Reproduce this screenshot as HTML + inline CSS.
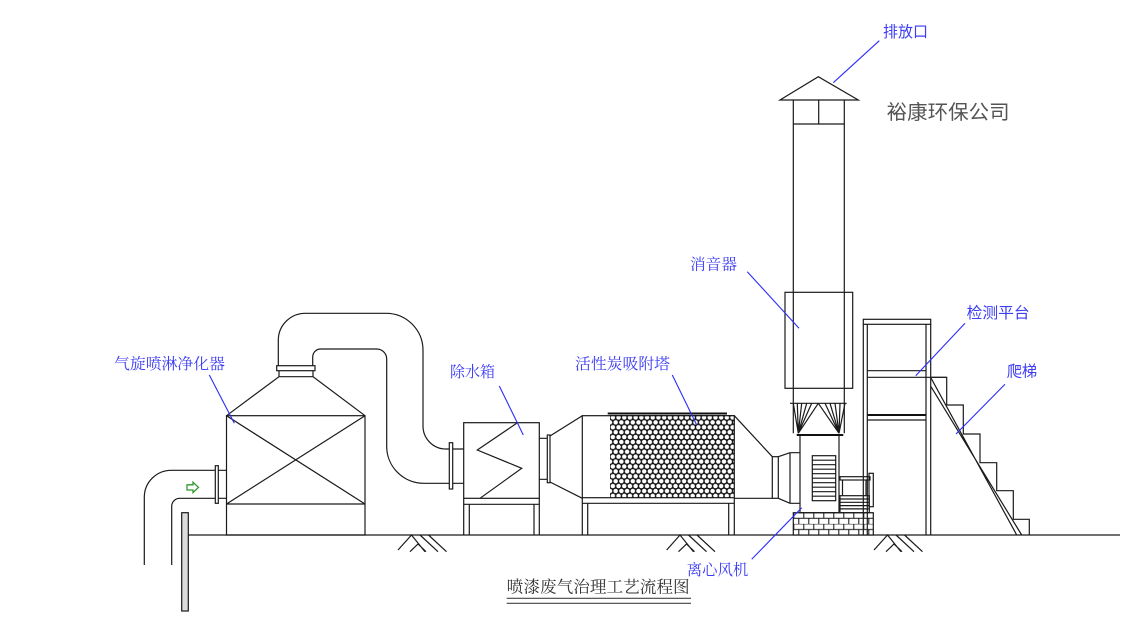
<!DOCTYPE html>
<html><head><meta charset="utf-8"><style>
html,body{margin:0;padding:0;background:#fff;}
svg{display:block;}
.l{fill:none;stroke:#1a1a1a;stroke-width:1.2;}
.b{stroke:#2b2bff;stroke-width:1.1;fill:none;}
.t{font-family:"Liberation Sans","Noto Sans CJK SC",sans-serif;fill:#3c3cf5;font-size:15.5px;}
.s{font-family:"Liberation Serif","Noto Serif CJK SC",serif;fill:#3c3cf5;font-size:15.5px;}
</style></head><body>
<svg width="1123" height="621" viewBox="0 0 1123 621" xmlns="http://www.w3.org/2000/svg">
<defs>
<pattern id="hc" patternUnits="userSpaceOnUse" x="610" y="415" width="5.7" height="9.8">
<rect width="5.7" height="9.8" fill="#111"/>
<circle cx="2.85" cy="2.45" r="2.25" fill="#fff"/>
<circle cx="0" cy="7.35" r="2.25" fill="#fff"/>
<circle cx="5.7" cy="7.35" r="2.25" fill="#fff"/>
</pattern>
<pattern id="br" patternUnits="userSpaceOnUse" x="793.3" y="512.7" width="10" height="11.2">
<rect width="10" height="11.2" fill="#fff"/>
<path d="M0,0H10M0,5.6H10M0.5,0V5.6M5.5,5.6V11.2" stroke="#111" stroke-width="1" fill="none"/>
</pattern>
</defs>
<rect width="1123" height="621" fill="#fff"/>

<!-- ground -->
<line class="l" x1="188.3" y1="535" x2="1120" y2="535"/>
<g class="l">
<path d="M398,550 L411.5,535 L425,551.7 M410,551.7 L418,544 L426,551.7 M420,535 L438,551.7 M428.5,535 L446.5,551.7"/>
<path d="M666.7,550 L680,535 L693.5,551.7 M678.5,551.7 L686.5,544 L694.5,551.7 M688.5,535 L706.5,551.7 M697,535 L715,551.7"/>
<path d="M874,550 L887.5,535 L901,551.7 M886,551.7 L894,544 L902,551.7 M896,535 L914,551.7 M904.5,535 L922.5,551.7"/>
</g>

<!-- inlet pipe -->
<g class="l">
<path d="M144.3,565 L144.3,497 A27,27 0 0 1 171.3,470.3 L215.3,470.3"/>
<path d="M171.7,565 L171.7,506.3 A8,8 0 0 1 179.7,498.3 L215.3,498.3"/>
<rect x="215.3" y="465.7" width="3" height="37.6"/>
<path d="M218.3,470.3H226.5M218.3,498.3H226.5"/>
</g>
<rect x="181.7" y="512.7" width="6.6" height="98.3" fill="#ddd" stroke="#1a1a1a" stroke-width="1.2"/>
<polygon points="187,484.8 193,484.8 193,482.2 198.5,487.4 193,492.6 193,490 187,490" fill="#fff" stroke="#2f9a2f" stroke-width="1.3"/>

<!-- scrubber -->
<g class="l">
<rect x="226.5" y="415.7" width="138.5" height="119.3"/>
<path d="M226.5,504H365 M226.5,415.7L365,504 M365,415.7L226.5,504"/>
<polyline points="226.5,415.7 279,376.7 313,376.7 365,415.7"/>
<rect x="276.7" y="365.7" width="38.3" height="5"/>
<path d="M279,370.7V376.7M313,370.7V376.7"/>
<path d="M278.3,365.7 L278.3,340 A27,27 0 0 1 305.3,313.3 L386,313.3 A37,37 0 0 1 423,350.3 L423,426 A23,23 0 0 0 446,449 L449.3,449"/>
<path d="M312.7,365.7 L312.7,357 A8,8 0 0 1 320.7,349 L376.7,349 A10,10 0 0 1 386.7,359 L386.7,446 A37,37 0 0 0 423.7,483.3 L449.3,483.3"/>
</g>

<!-- water box -->
<g class="l">
<rect x="463.7" y="422.7" width="75.6" height="75.6"/>
<path d="M463.7,498.3V535 M469.3,504.3V535 M534,504.3V535 M539.3,498.3V535 M463.7,504.3H539.3"/>
<polyline points="516.7,423.3 477.3,450 521.7,468.3 480,498.3"/>
<rect x="449.3" y="442.7" width="3.4" height="46.3"/>
<path d="M452.7,449H463.7M452.7,483.3H463.7"/>
<path d="M539.3,438.3H547.3M539.3,479.3H547.3"/>
<rect x="547.3" y="435" width="2.7" height="47.7"/>
<path d="M550,436L582.3,415.7M550,482L582.3,498.3"/>
</g>

<!-- carbon tower -->
<rect x="610" y="415" width="124.3" height="82.7" fill="url(#hc)"/>
<g class="l">
<rect x="582.3" y="415.7" width="152" height="82"/>
<path d="M582.3,497.7V535 M587.7,503.3V535 M728.7,503.3V535 M734.3,497.7V535 M582.3,503.3H734.3"/>
<path d="M734.3,415.7L772.3,456.7 M734.3,498.3H772.3"/>
<rect x="772.3" y="456.7" width="6" height="41.6"/>
<path d="M778.3,456.7L790,452.7 M778.3,498.3L790,503.3 M790,452.7V503.3 M790,452.7H800 M790,503.3H800"/>
</g>
<line x1="607.7" y1="413.5" x2="727" y2="413.5" stroke="#111" stroke-width="2"/>

<!-- chimney -->
<g class="l">
<polygon points="780,100 818.3,76.7 858.3,100"/>
<path d="M793.3,100V433.3 M844.3,100V433.3 M818.7,100V124 M793.3,124H844.3"/>
<rect x="785" y="292.3" width="67.7" height="96"/>
<path d="M790,403.3H846.7"/>
<path d="M793.3,403.3L798.3,433.3 M797.3,403.3L798.3,433.3 M801.7,403.3L798.3,433.3 M806.7,403.3L798.3,433.3 M811.7,403.3L798.3,433.3 M818.3,403.3L798.3,433.3"/>
<path d="M818.3,403.3L839,433.3 M825,403.3L839,433.3 M830,403.3L839,433.3 M835,403.3L839,433.3 M840,403.3L839,433.3 M845,403.3L839,433.3"/>
</g>

<!-- fan -->
<rect x="793.3" y="512.7" width="80" height="22.3" fill="url(#br)" stroke="#1a1a1a" stroke-width="1.2"/>
<g class="l">
<rect x="800" y="435" width="39" height="77.7"/>
<rect x="812.3" y="455.7" width="23.4" height="45"/>
<path d="M812.3,460.2H835.7M812.3,464.7H835.7M812.3,469.2H835.7M812.3,473.7H835.7M812.3,478.2H835.7M812.3,482.7H835.7M812.3,487.2H835.7M812.3,491.7H835.7M812.3,496.2H835.7"/>
<rect x="840" y="476.7" width="30" height="3.3"/>
<rect x="869" y="473.3" width="4.3" height="33.4"/>
<rect x="840" y="495.7" width="29.3" height="17"/>
<path d="M840,499H869.3M840,502.3H869.3M840,505.6H869.3M840,508.9H869.3 M842.5,480V495.7 M866,480V495.7"/>
</g>
<line x1="796.7" y1="435" x2="843.3" y2="435" stroke="#111" stroke-width="2"/>

<!-- platform & ladder -->
<g class="l">
<rect x="863.3" y="319.3" width="67.4" height="5"/>
<path d="M863.3,324.3V535 M867.3,324.3V535 M926,324.3V535 M930.7,324.3V535"/>
<path d="M867.3,370.7H926 M867.3,377.3H946.7 M867.3,420H926"/>
<polyline points="930.7,377.3 946.7,377.3 946.7,405 963.3,405 963.3,434 980,434 980,462.7 996.7,462.7 996.7,490.7 1013.3,490.7 1013.3,519.3 1029.3,519.3 1029.3,535"/>
<path d="M931,378L1016.7,535 M931,386.7L1021.7,535"/>
</g>
<line x1="867.3" y1="415" x2="926" y2="415" stroke="#111" stroke-width="2"/>

<!-- leaders -->
<g class="b">
<line x1="879.3" y1="40.7" x2="833.3" y2="82.7"/>
<line x1="209.3" y1="375" x2="234.3" y2="423.3"/>
<line x1="499.3" y1="386" x2="523.3" y2="435"/>
<line x1="672.3" y1="375" x2="696.7" y2="425"/>
<line x1="747.3" y1="271.7" x2="799" y2="328.3"/>
<line x1="965" y1="323.3" x2="915.7" y2="375.7"/>
<line x1="1005" y1="384.3" x2="956" y2="434"/>
<line x1="751.7" y1="559.3" x2="801.7" y2="507.7"/>
</g>

<!-- labels -->
<text class="t" x="883" y="37" textLength="45" lengthAdjust="spacingAndGlyphs">排放口</text>
<text x="886.7" y="119" font-family="'Liberation Sans','Noto Sans CJK SC',sans-serif" font-size="20" fill="#555" textLength="123" lengthAdjust="spacingAndGlyphs">裕康环保公司</text>
<text class="s" x="114" y="369" textLength="111" lengthAdjust="spacingAndGlyphs">气旋喷淋净化器</text>
<text class="s" x="450" y="377" textLength="45" lengthAdjust="spacingAndGlyphs">除水箱</text>
<text class="s" x="575" y="369" textLength="95" lengthAdjust="spacingAndGlyphs">活性炭吸附塔</text>
<text class="s" x="690" y="269.5" textLength="47" lengthAdjust="spacingAndGlyphs">消音器</text>
<text class="t" x="966.7" y="318" textLength="63" lengthAdjust="spacingAndGlyphs">检测平台</text>
<text class="t" x="1006.7" y="376.5" textLength="30.5" lengthAdjust="spacingAndGlyphs">爬梯</text>
<text class="s" x="686.7" y="575" textLength="61.6" lengthAdjust="spacingAndGlyphs">离心风机</text>
<text x="506.7" y="592.5" font-family="'Liberation Serif','Noto Serif CJK SC',serif" font-size="16.5" fill="#333" textLength="183" lengthAdjust="spacingAndGlyphs">喷漆废气治理工艺流程图</text>
<path d="M506.7,598.3H691M506.7,603.3H691" stroke="#444" stroke-width="1.1"/>
</svg>
</body></html>
